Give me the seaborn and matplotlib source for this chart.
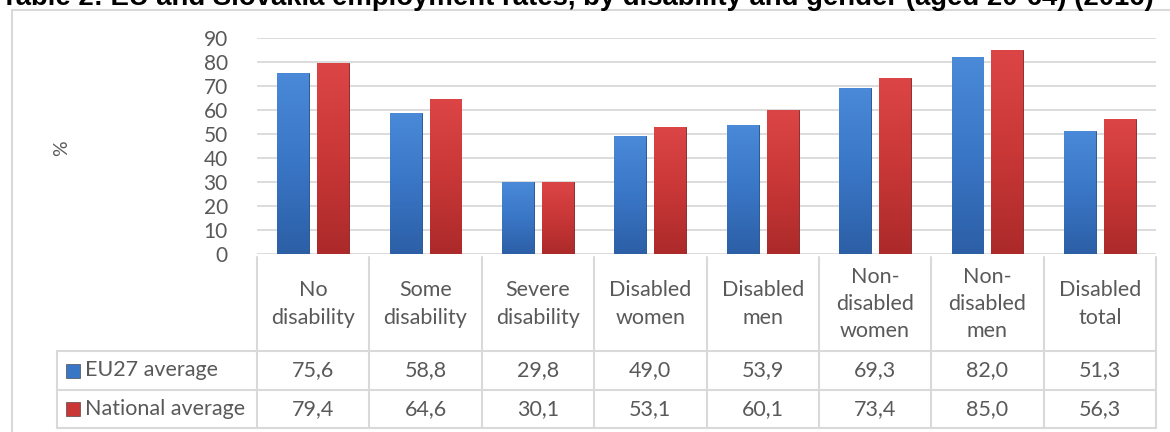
import numpy as np
import pandas as pd
import seaborn as sns
import matplotlib.pyplot as plt
from matplotlib.lines import Line2D
from matplotlib.patches import Rectangle
from matplotlib.colors import LinearSegmentedColormap

# chart data
categories = ['No\ndisability', 'Some\ndisability', 'Severe\ndisability', 'Disabled\nwomen',
              'Disabled\nmen', 'Non-\ndisabled\nwomen', 'Non-\ndisabled\nmen', 'Disabled\ntotal']
series_names = ['EU27 average', 'National average']
eu27 = [75.6, 58.8, 29.8, 49.0, 53.9, 69.3, 82.0, 51.3]
national = [79.4, 64.6, 30.1, 53.1, 60.1, 73.4, 85.0, 56.3]
yticks = [0, 10, 20, 30, 40, 50, 60, 70, 80, 90]

df = pd.DataFrame({
    'cat': categories * 2,
    'series': [series_names[0]] * len(categories) + [series_names[1]] * len(categories),
    'value': eu27 + national,
})

sns.set_style('white')
plt.rcParams['font.family'] = ['Lato', 'DejaVu Sans']

W, H = 1170, 432
fig = plt.figure(figsize=(W / 100, H / 100), dpi=100)

def fx(px):
    return px / W

def fy(py):
    return 1 - py / H

grey_text = '#595959'
grid_col = '#D9D9D9'
blue = '#3A74C4'
red = '#C93838'
# bottom -> top shades for the bars
blue_grad = LinearSegmentedColormap.from_list('b', ['#2C5FA6', '#3A76C6', '#4A8AD8'])
red_grad = LinearSegmentedColormap.from_list('r', ['#AC2A2A', '#C93737', '#DC4545'])

x0, x1 = 257, 1156
ax = fig.add_axes([fx(x0), fy(254), fx(x1) - fx(x0), fy(38) - fy(254)])
sns.barplot(data=df, x='cat', y='value', hue='series', hue_order=series_names,
            palette=[blue, red], width=0.71, gap=0.2, ax=ax, legend=False,
            linewidth=0.6, saturation=1)

# vertical gradient fill for each bar
grad = np.linspace(0, 1, 256).reshape(-1, 1)
for i, bar in enumerate(ax.patches):
    cmap = blue_grad if i < len(categories) else red_grad
    bar.set_edgecolor('#1E4A80' if i < len(categories) else '#7E1F20')
    bx, bw, bh = bar.get_x(), bar.get_width(), bar.get_height()
    im = ax.imshow(grad, extent=[bx, bx + bw, 0, bh], origin='lower', cmap=cmap,
                   aspect='auto', zorder=bar.get_zorder() + 0.1)
    im.set_clip_path(bar)
ax.set_xlim(-0.5, len(categories) - 0.5)
ax.set_ylim(0, 90)
ax.set_aspect('auto')

ax.set_yticks(yticks)
ax.set_yticklabels([str(t) for t in yticks], fontsize=15, color=grey_text)
ax.set_xticks([])
ax.set_xlabel('')
ax.set_ylabel('')
ax.grid(axis='y', color=grid_col, linewidth=1.3)
ax.set_axisbelow(True)
for s in ax.spines.values():
    s.set_visible(False)
ax.tick_params(axis='y', length=0, pad=21)

# outer frame (right and bottom edges run off the picture)
fig.add_artist(Rectangle((fx(12), fy(445)), fx(1180) - fx(12), fy(10) - fy(445),
                         transform=fig.transFigure, fill=False, edgecolor=grid_col, linewidth=1.5))

# title (top partly cut off, as in the reference)
fig.text(fx(1), fy(5), 'Table 2: EU and Slovakia employment rates, by disability and gender (aged 20-64) (2016)',
         fontsize=19.8, fontweight='bold', family=['Liberation Sans', 'DejaVu Sans'],
         ha='left', va='baseline', color='black')

fig.text(fx(62), fy(148), '%', rotation=90, fontsize=14, color=grey_text, ha='center', va='center')

# data table below the chart
colw = (x1 - x0) / len(categories)
r0, r1, r2, r3 = 257, 351, 390, 428
tbl_left = 57

def hline(y, xa, xb):
    fig.add_artist(Line2D([fx(xa), fx(xb)], [fy(y), fy(y)], color=grid_col, linewidth=1.5))

def vline(x, ya, yb):
    fig.add_artist(Line2D([fx(x), fx(x)], [fy(ya), fy(yb)], color=grid_col, linewidth=1.5))

hline(r1, tbl_left, x1)
hline(r2, tbl_left, x1)
hline(r3, tbl_left, x1)
for i in range(len(categories) + 1):
    vline(x0 + i * colw, r0, r3)
vline(tbl_left, r1, r3)

fs = 15.5
for i, cat in enumerate(categories):
    cx = x0 + (i + 0.5) * colw
    fig.text(fx(cx), fy((r0 + r1) / 2), cat, ha='center', va='center', fontsize=fs,
             color=grey_text, linespacing=1.45)
    fig.text(fx(cx), fy((r1 + r2) / 2), f'{eu27[i]:.1f}'.replace('.', ','), ha='center', va='center',
             fontsize=fs, color=grey_text)
    fig.text(fx(cx), fy((r2 + r3) / 2), f'{national[i]:.1f}'.replace('.', ','), ha='center', va='center',
             fontsize=fs, color=grey_text)

for (ya, yb), name, cmap in zip([(r1, r2), (r2, r3)], series_names, [blue_grad, red_grad]):
    ym = (ya + yb) / 2
    fig.add_artist(Rectangle((fx(66), fy(ym + 7)), fx(14), fy(0) - fy(14), transform=fig.transFigure,
                             facecolor=cmap(0.5), edgecolor='#333333', linewidth=0.4))
    fig.text(fx(85), fy(ym), name, ha='left', va='center', fontsize=fs, color=grey_text)

fig.savefig('out.png', dpi=100)
